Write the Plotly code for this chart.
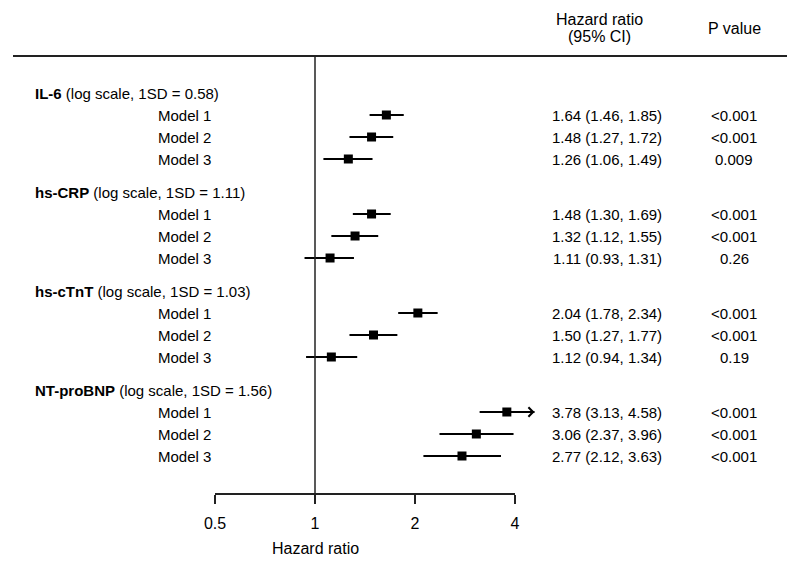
import math
import plotly.graph_objects as go

# ---- data ----
biomarkers = ["IL-6", "hs-CRP", "hs-cTnT", "NT-proBNP"]
sd_labels = ["0.58", "1.11", "1.03", "1.56"]
models = ["Model 1", "Model 2", "Model 3"]
hr = [1.64, 1.48, 1.26, 1.48, 1.32, 1.11, 2.04, 1.50, 1.12, 3.78, 3.06, 2.77]
lo = [1.46, 1.27, 1.06, 1.30, 1.12, 0.93, 1.78, 1.27, 0.94, 3.13, 2.37, 2.12]
hi = [1.85, 1.72, 1.49, 1.69, 1.55, 1.31, 2.34, 1.77, 1.34, 4.58, 3.96, 3.63]
p_values = ["<0.001", "<0.001", "0.009", "<0.001", "<0.001", "0.26",
            "<0.001", "<0.001", "0.19", "<0.001", "<0.001", "<0.001"]
tick_vals = [0.5, 1, 2, 4]
tick_text = ["0.5", "1", "2", "4"]

# ---- layout helpers ----
OFF = 8                      # page body margin
W, H = 800 - OFF, 565 - OFF
GROUP_STEP = 4.5
FONT = "Liberation Sans, Arial, sans-serif"
axis_max = max(tick_vals)

# target screen positions (px)
PLOT_TOP, PLOT_BOT = 56, 494
X_MIN_PX, X_MAX_PX = 215, 515
FIRST_ROW_PX, UNIT = 93, 22.0
plot_h = PLOT_BOT - PLOT_TOP


def px(xs):
    return (xs - OFF) / W


def py(ys):
    return (PLOT_BOT - ys) / plot_h


header_y = [g * GROUP_STEP for g in range(len(biomarkers))]
row_y = [g * GROUP_STEP + m + 1 for g in range(len(biomarkers)) for m in range(len(models))]
row_model = [models[m] for g in range(len(biomarkers)) for m in range(len(models))]

fig = go.Figure()

fig.add_trace(go.Scatter(
    x=hr, y=row_y, mode="markers",
    marker=dict(symbol="square", size=9, color="black"),
    error_x=dict(type="data", symmetric=False,
                 array=[h - m for h, m in zip(hi, hr)],
                 arrayminus=[m - l for m, l in zip(hr, lo)],
                 color="black", thickness=2, width=0),
    showlegend=False, hoverinfo="skip",
))

ann = []
for name, sd, y in zip(biomarkers, sd_labels, header_y):
    ann.append(dict(x=px(33), xref="paper", y=y, yref="y", xanchor="left", yanchor="middle",
                    text=f"<b>{name}</b> (log scale, 1SD = {sd})", showarrow=False,
                    font=dict(size=15, color="black", family=FONT)))
for lbl, y, h, l, u, p in zip(row_model, row_y, hr, lo, hi, p_values):
    ann.append(dict(x=px(213), xref="paper", y=y, yref="y", xanchor="right", yanchor="middle",
                    text=lbl, showarrow=False, font=dict(size=15, color="black", family=FONT)))
    ann.append(dict(x=px(607), xref="paper", y=y, yref="y", xanchor="center", yanchor="middle",
                    text=f"{h:.2f} ({l:.2f}, {u:.2f})", showarrow=False,
                    font=dict(size=15, color="black", family=FONT)))
    ann.append(dict(x=px(734), xref="paper", y=y, yref="y", xanchor="center", yanchor="middle",
                    text=p, showarrow=False, font=dict(size=15, color="black", family=FONT)))
    if u > axis_max:
        ann.append(dict(x=math.log10(u), xref="x", y=y, yref="y", ax=-14, ay=0,
                        axref="pixel", ayref="pixel", text="", showarrow=True,
                        arrowhead=4, arrowsize=0.9, arrowwidth=2, arrowcolor="black"))

ann += [
    dict(x=px(599), xref="paper", y=py(20), yref="paper", text="Hazard ratio",
         showarrow=False, xanchor="center", yanchor="middle", font=dict(size=16, color="black", family=FONT)),
    dict(x=px(599), xref="paper", y=py(37), yref="paper", text="(95% CI)",
         showarrow=False, xanchor="center", yanchor="middle", font=dict(size=16, color="black", family=FONT)),
    dict(x=px(734), xref="paper", y=py(29), yref="paper", text="P value",
         showarrow=False, xanchor="center", yanchor="middle", font=dict(size=16, color="black", family=FONT)),
    dict(x=0, xref="x", y=py(548), yref="paper", text="Hazard ratio",
         showarrow=False, xanchor="center", yanchor="middle", font=dict(size=16, color="black", family=FONT)),
]

line_col = "#222222"
shapes = [
    dict(type="line", xref="paper", yref="paper", x0=px(13), x1=px(787), y0=1, y1=1,
         line=dict(color=line_col, width=2)),
    dict(type="line", xref="x", yref="paper", x0=1, x1=1, y0=0, y1=1,
         line=dict(color=line_col, width=1.5)),
    dict(type="line", xref="x", yref="paper", x0=tick_vals[0], x1=tick_vals[-1], y0=0, y1=0,
         line=dict(color=line_col, width=2)),
]

px_per_dec = (X_MAX_PX - X_MIN_PX) / (math.log10(tick_vals[-1]) - math.log10(tick_vals[0]))
x_lo = math.log10(tick_vals[0]) - (X_MIN_PX - OFF) / px_per_dec
x_hi = math.log10(tick_vals[-1]) + (W + OFF - X_MAX_PX) / px_per_dec

y_top = (PLOT_TOP - FIRST_ROW_PX) / UNIT
y_bot = (PLOT_BOT - FIRST_ROW_PX) / UNIT

fig.update_layout(
    width=W, height=H,
    margin=dict(l=0, r=0, t=PLOT_TOP - OFF, b=H - (PLOT_BOT - OFF), pad=0),
    paper_bgcolor="white", plot_bgcolor="white",
    font=dict(family=FONT, size=15, color="black"),
    xaxis=dict(type="log", range=[x_lo, x_hi], tickvals=tick_vals, ticktext=tick_text,
               ticks="outside", ticklen=9, tickwidth=2, tickcolor=line_col,
               ticklabelstandoff=6,
               showgrid=False, zeroline=False, showline=False,
               tickfont=dict(size=16, color="black", family=FONT), fixedrange=True),
    yaxis=dict(range=[y_bot, y_top], visible=False, showgrid=False, zeroline=False, fixedrange=True),
    annotations=ann, shapes=shapes,
)

fig.write_html("out.html")
